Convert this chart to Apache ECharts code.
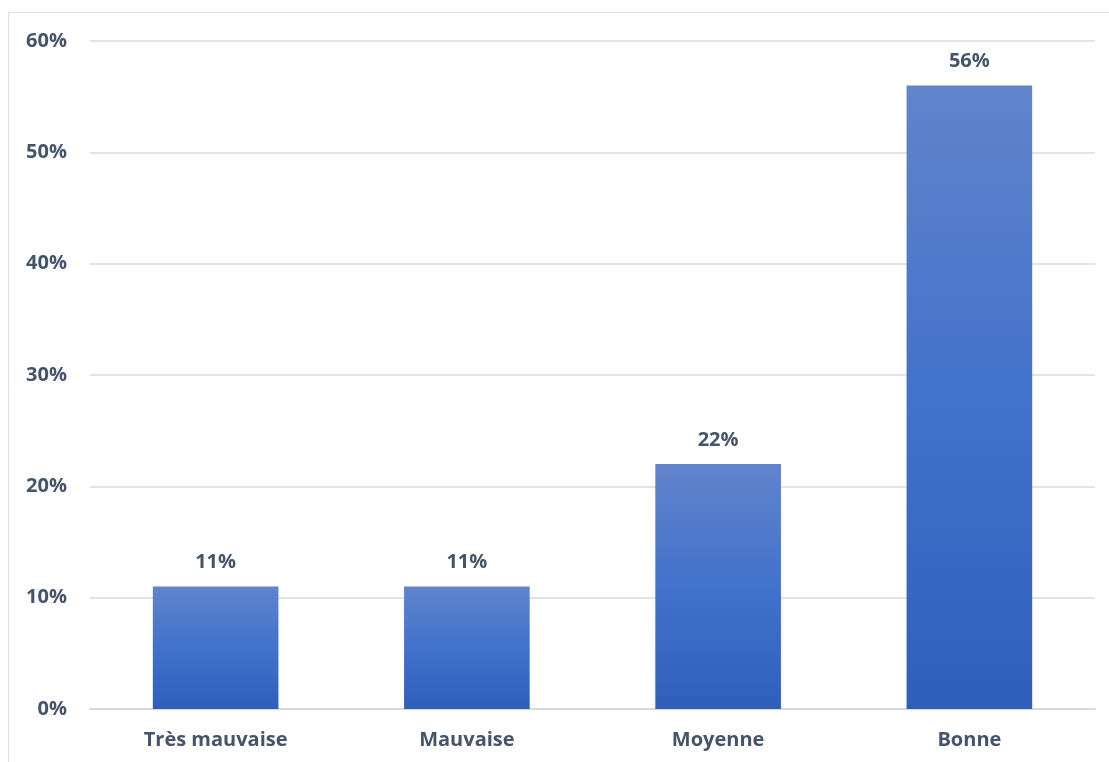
<!DOCTYPE html>
<html><head><meta charset="utf-8">
<script src="https://cdn.jsdelivr.net/npm/echarts@6/dist/echarts.min.js"></script>
<style>html,body{margin:0;padding:0;background:#fff}#c{width:1109px;height:762px}</style>
</head><body><div id="c"></div>
<script>
const categories = ["Très mauvaise", "Mauvaise", "Moyenne", "Bonne"];
const values = [11, 11, 22, 56];
const yTicks = [0, 10, 20, 30, 40, 50, 60];

const textColor = '#44546a';
const font = 'Open Sans';
const chart = echarts.init(document.getElementById('c'));
chart.setOption({
  animation: false,
  backgroundColor: '#fff',
  graphic: [{type: 'rect', shape: {x: 8.5, y: 12.5, width: 1200, height: 900}, style: {fill: 'none', stroke: '#dde1e7', lineWidth: 1}, silent: true}],
  grid: {left: 90, right: 14, top: 41, bottom: 53, containLabel: false},
  xAxis: {
    type: 'category', data: categories,
    axisLine: {lineStyle: {color: '#d9d9d9', width: 2}},
    axisTick: {show: false},
    axisLabel: {color: textColor, fontFamily: font, fontWeight: 'bold', fontSize: 20, margin: 21}
  },
  yAxis: {
    type: 'value', min: yTicks[0], max: yTicks[yTicks.length - 1], interval: 10,
    axisLine: {show: false}, axisTick: {show: false},
    splitLine: {lineStyle: {color: '#e3e3e3', width: 2}},
    axisLabel: {color: textColor, fontFamily: font, fontWeight: 'bold', fontSize: 20, margin: 23, formatter: v => v + '%'}
  },
  series: [{
    type: 'bar', data: values, barWidth: '50%',
    itemStyle: {color: new echarts.graphic.LinearGradient(0, 0, 0, 1, [{offset: 0, color: '#6184cc'}, {offset: 0.5, color: '#4272cb'}, {offset: 1, color: '#2f5fbb'}])},
    label: {show: true, position: 'top', distance: 14, color: textColor, fontFamily: font, fontWeight: 'bold', fontSize: 20, formatter: p => p.value + '%'}
  }]
});
</script></body></html>
